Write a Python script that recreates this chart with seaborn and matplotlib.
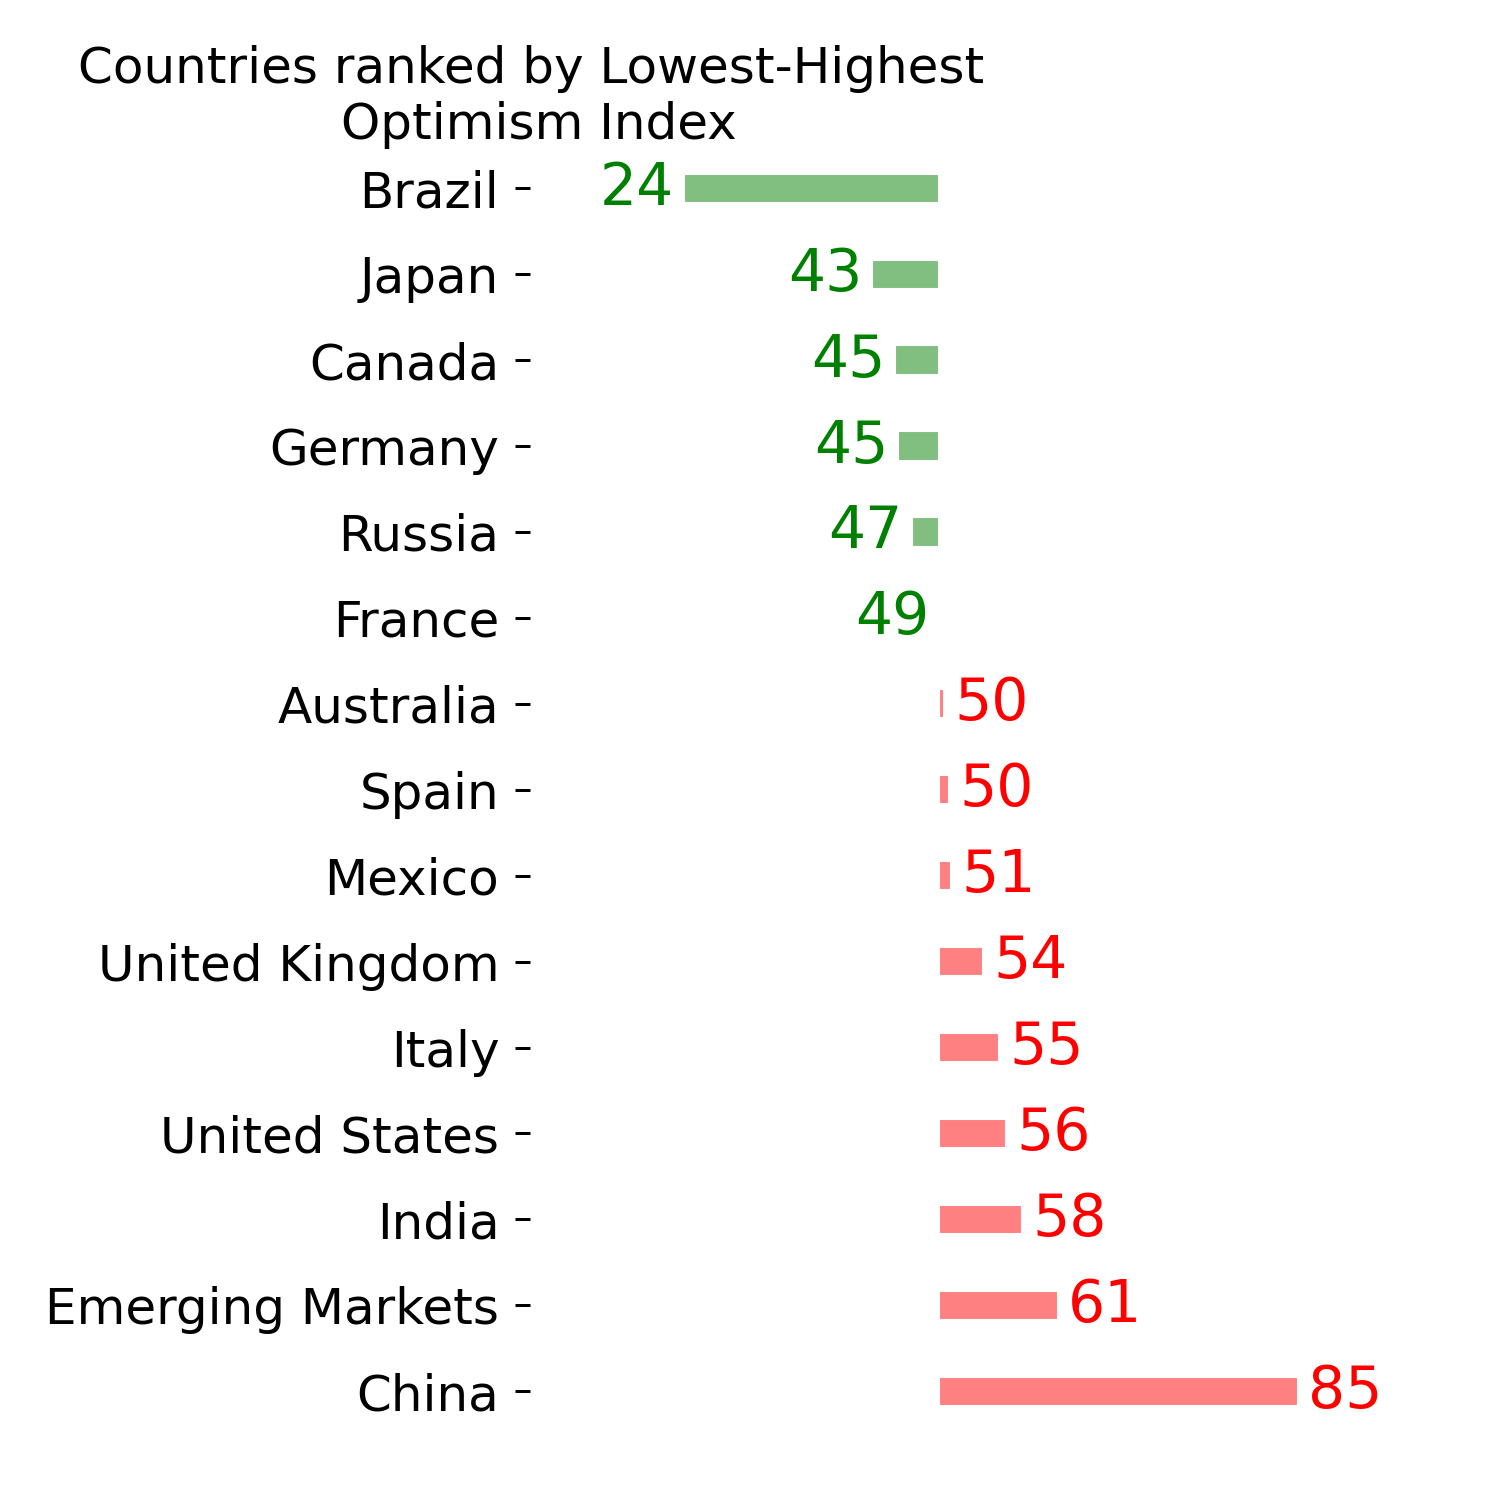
import numpy as np
import pandas as pd
import seaborn as sns
import matplotlib.pyplot as plt

# Optimism index per country
countries = ['Brazil', 'Japan', 'Canada', 'Germany', 'Russia', 'France',
             'Australia', 'Spain', 'Mexico', 'United Kingdom', 'Italy',
             'United States', 'India', 'Emerging Markets', 'China']
index_values = [23.9, 42.7, 45.0, 45.3, 46.7, 49.4,
                49.9, 50.4, 50.6, 53.8, 55.4,
                56.1, 57.7, 61.3, 85.3]
# bars are drawn relative to this reference value
reference = 49.4

df = pd.DataFrame({'Country': countries, 'Index': index_values})
df['Diff'] = df['Index'] - reference
df['Side'] = np.where(df['Diff'] > 0, 'above', 'below')

sns.set_style('white', {'text.color': 'black', 'ytick.color': 'black',
                        'axes.labelcolor': 'black'})
fig = plt.figure(figsize=(10, 10), dpi=150)
ax = fig.add_axes([0.3533, 0.04387, 0.6133, 0.8593])

sns.barplot(data=df, x='Diff', y='Country', hue='Side', orient='h',
            palette={'below': '#80bf80', 'above': '#ff8080'},
            saturation=1, width=0.34, dodge=False, legend=False, ax=ax)

# value labels at the end of each bar
for i, row in df.iterrows():
    if row['Diff'] > 0:
        ax.text(row['Diff'] + 1, i, '{:.0f}'.format(row['Index']), color='red',
                fontsize=28, ha='left', va='center')
    else:
        ax.text(row['Diff'] - 1, i, '{:.0f}'.format(row['Index']), color='green',
                fontsize=28, ha='right', va='center')

ax.set_xlim(-40.93, 51.07)
ax.set_xlabel('')
ax.set_ylabel('')
ax.set_xticks([])
ax.tick_params(axis='y', labelsize=24, length=7.2, width=1.44, pad=7.5,
               left=True, colors='black')
sns.despine(ax=ax, left=True, bottom=True)

fig.text(0.3593, 0.9008, 'Countries ranked by Lowest-Highest \nOptimism Index',
         fontsize=24, ha='center', va='bottom', color='black')

plt.savefig('out.png', dpi=150)
